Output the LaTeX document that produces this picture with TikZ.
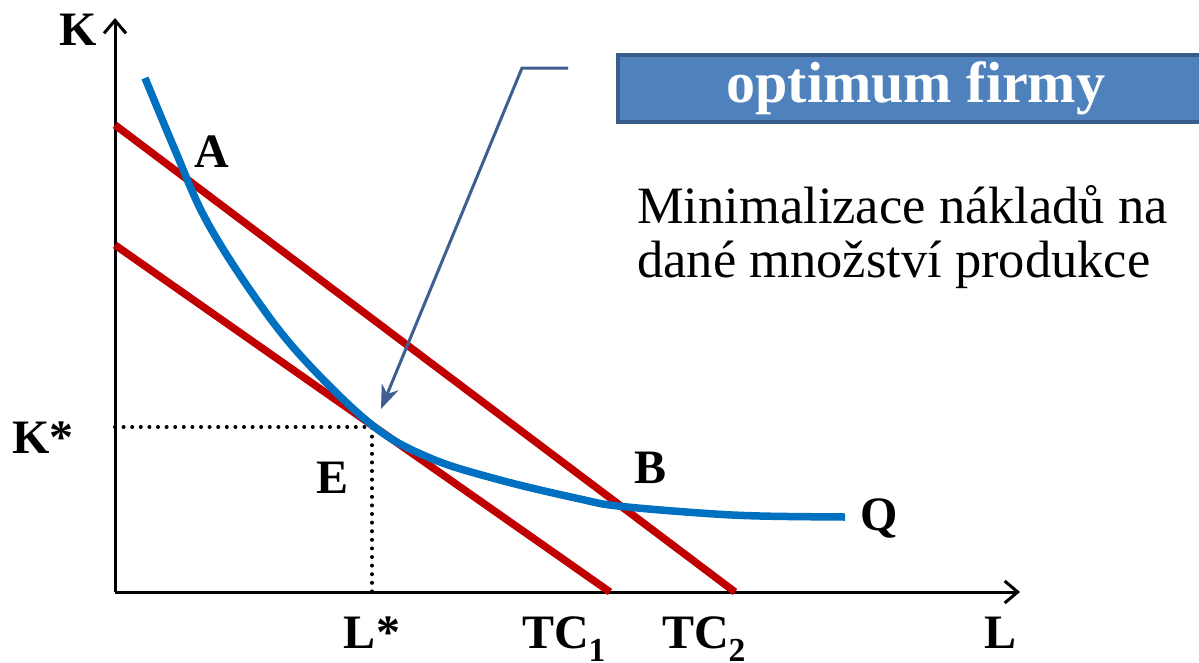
\documentclass[tikz,border=0pt]{standalone}
\usepackage{fontspec}
\setmainfont{Liberation Serif}
\usetikzlibrary{positioning, arrows.meta}
\definecolor{budget}{HTML}{C00000}
\definecolor{isoquant}{HTML}{0070C0}
\definecolor{boxfill}{HTML}{4F81BD}
\definecolor{boxline}{HTML}{385D8A}
\definecolor{pointer}{HTML}{3E5F8F}

\begin{document}
\begin{tikzpicture}[
      x=1pt, y=-1pt,
      axis/.style={line width=3pt, -{Straight Barb[length=13pt,width=22pt]}},
      guide/.style={line width=4pt, line cap=round, dash pattern=on 0pt off 8.6pt},
      costline/.style={budget, line width=7.5pt},
      isoq/.style={isoquant, line width=7.5pt},
      lbl/.style={font=\fontsize{48}{58}\selectfont\bfseries, inner sep=0pt, anchor=base},
      txt/.style={font=\fontsize{52.5}{62}\selectfont, inner sep=0pt, anchor=base west}
    ]
    \useasboundingbox (0,0) rectangle (1199,662);

    \coordinate (O) at (115,592);
    \coordinate (Ktop) at (115,18);
    \coordinate (Lend) at (1020,592);
    \coordinate (E) at (372,427);
    \coordinate (Kax) at (115,427);
    \coordinate (Lax) at (372,592);

    \draw[guide] (Kax) -- (E) -- (Lax);

    \draw[axis] (O) -- (Ktop);
    \draw[axis] (O) -- (Lend);

    \draw[costline] (115,125) -- (735,592);
    \draw[costline] (115,245) -- (610,592);

    \draw[isoq] plot[smooth, tension=0.6] coordinates {
      (145,78) (175,150) (205,218) (250,290) (300,355) (372,425)
      (430,458) (500,480) (580,499) (618,506) (700,513) (760,516) (845,517)};

    \node[lbl] (K) at (78,45) {K};
    \node[lbl] (Kstar) at (43,453) {K*};
    \node[lbl] (Lstar) at (372,648) {L*};
    \node[lbl] (TC1) at (564,648) {TC\textsubscript{1}};
    \node[lbl] (TC2) at (704,648) {TC\textsubscript{2}};
    \node[lbl] (L) at (1000,648) {L};
    \node[lbl] (A) at (212,167) {A};
    \node[lbl] (B) at (650,483) {B};
    \node[lbl] (Elbl) at (333,493) {E};
    \node[lbl] (Q) at (879,530) {Q};

    \node (title) [draw=boxline, line width=3.5pt, fill=boxfill, text=white,
      minimum width=596pt, minimum height=67pt, inner sep=0pt,
      font=\fontsize{58}{66}\selectfont\bfseries] at (916,88.5) {optimum firmy};

    \node[txt] (line1) at (637,223) {Minimalizace nákladů na};
    \node[txt] (line2) at (637,277) {dané množství produkce};

    \coordinate (start) at (568,68);
    \coordinate (bend) at (522,68);
    \coordinate (tip) at (381,409);
    \draw[pointer, line width=3pt, -{Stealth[length=24pt,width=18pt]}] (start) -- (bend) -- (tip);
  \end{tikzpicture}
\end{document}
